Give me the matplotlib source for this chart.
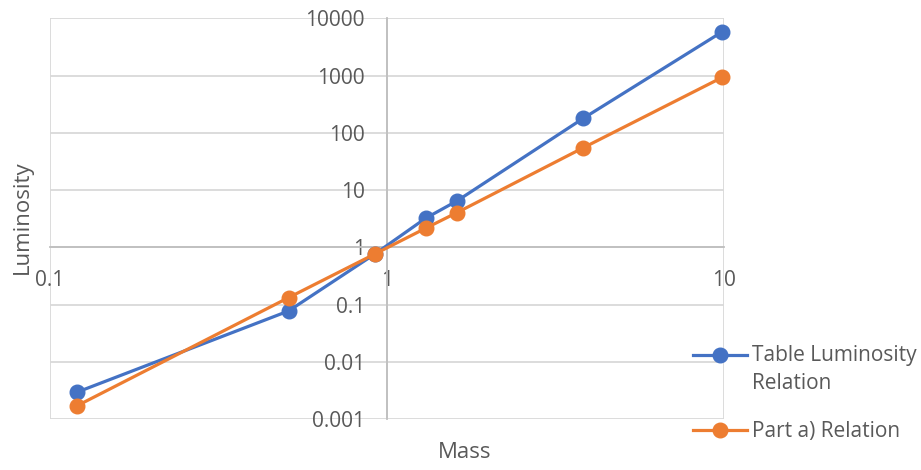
import matplotlib

matplotlib.use("Agg")
import matplotlib.pyplot as plt
import numpy as np
from matplotlib.legend_handler import HandlerLine2D
from matplotlib.ticker import FixedLocator, FuncFormatter, NullLocator

# Mass vs luminosity, two relations (log-log)
mass = [0.12, 0.51, 0.92, 1.30, 1.61, 3.82, 9.87]
lum_table = [0.00296, 0.0778, 0.77, 3.23, 6.47, 180, 5840]
lum_part_a = [0.00171, 0.133, 0.77, 2.16, 4.05, 55.1, 934]
series_names = ["Table Luminosity\nRelation", "Part a) Relation"]
x_ticks = [0.1, 1, 10]
y_ticks = [0.001, 0.01, 0.1, 1, 10, 100, 1000, 10000]

BLUE, ORANGE = "#4472c4", "#ed7d31"
GRID, AXIS, TEXT = "#d9d9d9", "#bfbfbf", "#595959"
FS = 15
LINESP = 1.45


class FirstLineHandler(HandlerLine2D):
    """Excel puts the legend key next to the first line of a wrapped label."""

    def create_artists(self, legend, orig_handle, xdescent, ydescent, width,
                       height, fontsize, trans):
        arts = super().create_artists(legend, orig_handle, xdescent, ydescent,
                                      width, height, fontsize, trans)
        nlines = orig_handle.get_label().count("\n") + 1
        shift = 0.5 * (nlines - 1) * LINESP * fontsize
        for a in arts:
            a.set_ydata(np.asarray(a.get_ydata()) + shift)
        return arts


plt.rcParams["font.family"] = ["Open Sans", "DejaVu Sans"]

W, H = 921, 470
fig = plt.figure(figsize=(W / 100, H / 100), dpi=100, facecolor="white")
left, right, top, bottom = 50, 724.3, 18.3, 419.3
ax = fig.add_axes([left / W, 1 - bottom / H, (right - left) / W, (bottom - top) / H])

ax.set_xscale("log")
ax.set_yscale("log")
ax.set_xlim(0.1, 10)
ax.set_ylim(0.001, 10000)

lines = []
for y, c, name in zip([lum_table, lum_part_a], [BLUE, ORANGE], series_names):
    ln, = ax.plot(mass, y, color=c, lw=2.3, marker="o", ms=10.5, label=name,
                  zorder=4, clip_on=False)
    lines.append(ln)

ax.xaxis.set_major_locator(FixedLocator(x_ticks))
ax.yaxis.set_major_locator(FixedLocator(y_ticks))
ax.xaxis.set_minor_locator(NullLocator())
ax.yaxis.set_minor_locator(NullLocator())
fmt = FuncFormatter(lambda v, _: f"{v:g}")
ax.xaxis.set_major_formatter(fmt)
ax.yaxis.set_major_formatter(fmt)
ax.tick_params(length=0, labelsize=FS, labelcolor=TEXT)
ax.tick_params(axis="y", pad=16)
ax.tick_params(axis="x", pad=16)

ax.grid(True, color=GRID, lw=1.3, zorder=0)
ax.set_axisbelow(True)
for s in ("top", "right"):
    ax.spines[s].set_visible(False)
ax.spines["left"].set_position(("data", 1))
ax.spines["bottom"].set_position(("data", 1))
for s in ("left", "bottom"):
    ax.spines[s].set_color(AXIS)
    ax.spines[s].set_linewidth(1.3)
    ax.spines[s].set_zorder(1)

fig.text(465 / W, 1 - 452 / H, "Mass", ha="center", va="center",
         fontsize=FS + 1, color=TEXT)
fig.text(22 / W, 1 - 217 / H, "Luminosity", ha="center", va="center",
         rotation=90, fontsize=FS + 1, color=TEXT)

leg = fig.legend(handles=lines, loc="upper left",
                 bbox_to_anchor=(693 / W, 1 - 345 / H),
                 bbox_transform=fig.transFigure, frameon=False, fontsize=FS,
                 labelcolor=TEXT, handlelength=2.6, handletextpad=0.25,
                 borderpad=0, borderaxespad=0, labelspacing=1.3,
                 handler_map={ln: FirstLineHandler() for ln in lines})
for t in leg.get_texts():
    t.set_linespacing(LINESP)

fig.savefig("out.png", dpi=100)
